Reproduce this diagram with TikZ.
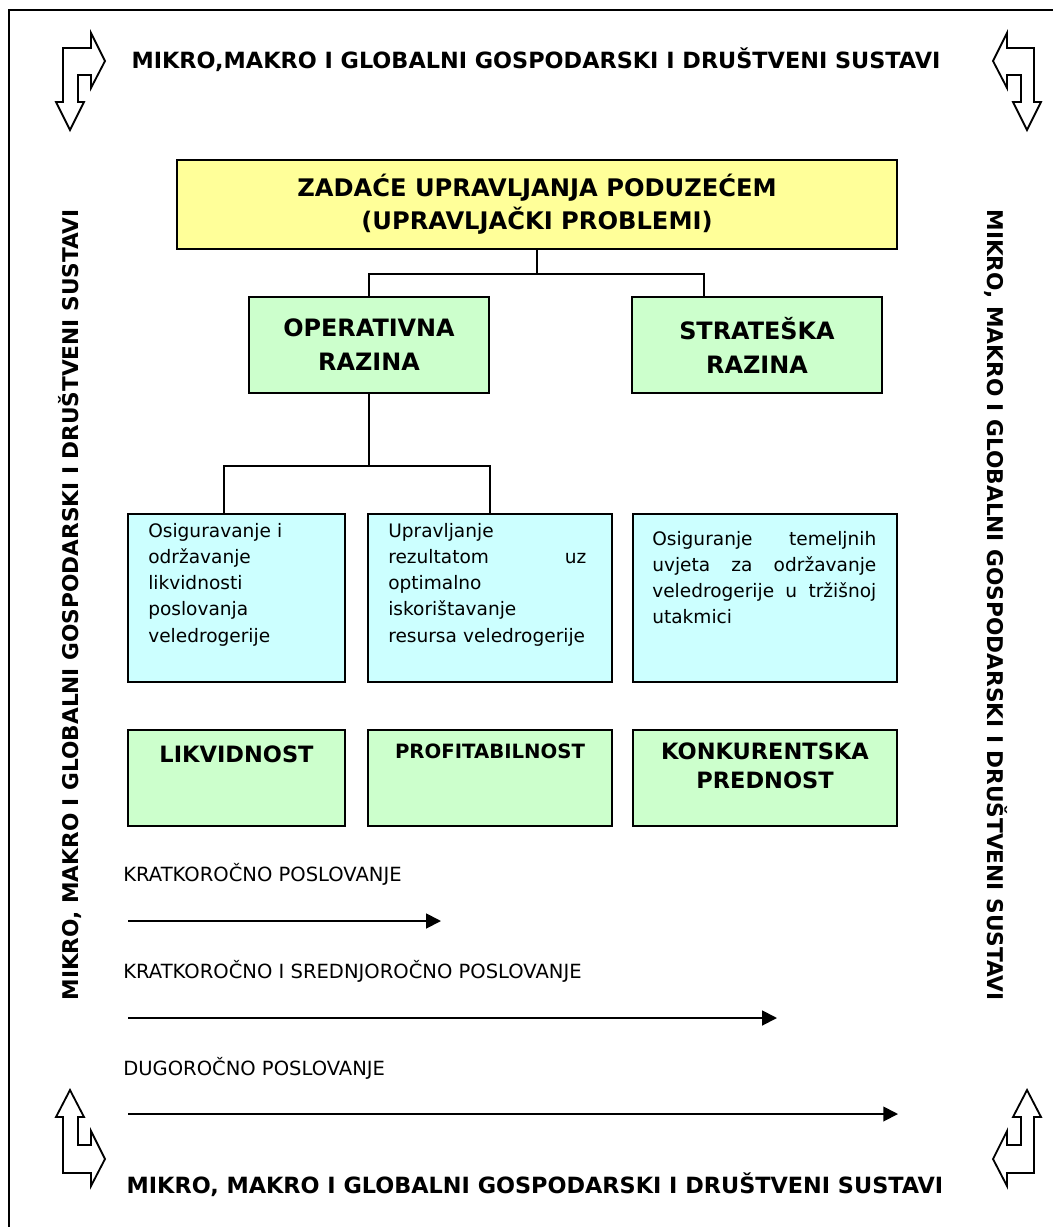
\documentclass[tikz,border=0pt]{standalone}
\usepackage{fontspec}
\setmainfont{DejaVu Sans}
\usetikzlibrary{positioning,calc,arrows.meta}

\definecolor{zadzuta}{HTML}{FFFF99}
\definecolor{razzelena}{HTML}{CCFFCC}
\definecolor{ciljplava}{HTML}{CCFFFF}

\tikzset{
  okvir/.style={draw, line width=1.4pt, inner sep=0pt},
  zadbox/.style={okvir, fill=zadzuta, minimum width=18cm, minimum height=2.225cm,
    align=center, font=\bfseries\fontsize{17.2}{23.5}\selectfont},
  razbox/.style={okvir, fill=razzelena, minimum height=2.4cm,
    align=center, font=\bfseries\fontsize{17}{24.2}\selectfont},
  ciljbox/.style={okvir, fill=ciljplava, minimum height=4.2cm},
  ciljtekst/.style={inner sep=0pt, align=left, font=\fontsize{13.2}{18.6}\selectfont},
  mjerbox/.style={okvir, fill=razzelena, minimum height=2.4cm},
  mjertekst/.style={inner sep=0pt, align=center, font=\bfseries\fontsize{16}{20}\selectfont},
  naslov/.style={inner sep=0pt, font=\bfseries\fontsize{15.9}{18}\selectfont},
  bocni/.style={inner sep=0pt, font=\bfseries\fontsize{15.4}{18}\selectfont},
  vrijeme/.style={inner sep=0pt, font=\fontsize{13.9}{16}\selectfont},
  veza/.style={line width=0.8pt},
  rok/.style={line width=1.3pt, -{Triangle[length=10.5pt, width=10.5pt]}},
  kutna/.style={line width=1.3pt, line join=miter}
}

\begin{document}
\begin{tikzpicture}[x=0.025cm, y=-0.025cm]
        \useasboundingbox (0,0) rectangle (1053,1227);

        % Frame
        \draw[line width=1.4pt] (9,1227) -- (9,10) -- (1053,10);

        % Surrounding systems
        \node[naslov] (gore) at (536,60) {MIKRO,MAKRO I GLOBALNI GOSPODARSKI I DRUŠTVENI SUSTAVI};
        \node[naslov] (dolje) at (535,1185) {MIKRO, MAKRO I GLOBALNI GOSPODARSKI I DRUŠTVENI SUSTAVI};
        \node[bocni, rotate=90] (lijevo) at (70,605) {MIKRO, MAKRO I GLOBALNI GOSPODARSKI I DRUŠTVENI SUSTAVI};
        \node[bocni, rotate=-90] (desno) at (996,605) {MIKRO, MAKRO I GLOBALNI GOSPODARSKI I DRUŠTVENI SUSTAVI};

        % Corner arrows
        \draw[kutna] (63,48) -- (91,48) -- (91,33) -- (105,61) -- (91,88) -- (91,75) -- (78,75)
          -- (78,102) -- (84,102) -- (70,130) -- (56,102) -- (63,102) -- cycle;
        \draw[kutna] (1034,48) -- (1007,48) -- (1007,33) -- (993,61) -- (1007,88) -- (1007,75) -- (1021,75)
          -- (1021,102) -- (1013,102) -- (1027,130) -- (1041,102) -- (1034,102) -- cycle;
        \draw[kutna] (63,1173) -- (91,1173) -- (91,1186) -- (105,1159) -- (91,1131) -- (91,1145) -- (78,1145)
          -- (78,1117) -- (84,1117) -- (70,1090) -- (56,1117) -- (63,1117) -- cycle;
        \draw[kutna] (1034,1173) -- (1007,1173) -- (1007,1186) -- (993,1159) -- (1007,1131) -- (1007,1145) -- (1021,1145)
          -- (1021,1117) -- (1013,1117) -- (1027,1090) -- (1041,1117) -- (1034,1117) -- cycle;

        % Tasks
        \node[zadbox] (zad) at (537,204.5) {ZADAĆE UPRAVLJANJA PODUZEĆEM\\(UPRAVLJAČKI PROBLEMI)};

        % Levels
        \node[razbox, minimum width=6cm] (oper) at (369,345) {OPERATIVNA\\RAZINA};
        \node[razbox, minimum width=6.25cm] (strat) at (757,345) {STRATEŠKA\\RAZINA};

        % Goals
        \node[ciljbox, minimum width=5.425cm] (c1) at (236.5,598) {};
        \node[ciljbox, minimum width=6.1cm] (c2) at (490,598) {};
        \node[ciljbox, minimum width=6.6cm] (c3) at (765,598) {};

        \node[ciljtekst, text width=4.95cm, anchor=north west] (t1) at ($(c1.north west)+(21,10)$)
          {Osiguravanje i\\održavanje\\likvidnosti\\poslovanja\\veledrogerije};
        \node[ciljtekst, text width=4.95cm, anchor=north west] (t2) at ($(c2.north west)+(21,10)$)
          {Upravljanje\\rezultatom\hfill uz\\optimalno\\iskorištavanje\\\mbox{resursa veledrogerije}};
        \node[ciljtekst, text width=5.6cm, anchor=north west] (t3) at ($(c3.north west)+(20,18)$)
          {Osiguranje\hfill temeljnih\\uvjeta\hfill za\hfill održavanje\\veledrogerije\hfill u\hfill tržišnoj\\utakmici};

        % Measures
        \node[mjerbox, minimum width=5.425cm] (m1) at (236.5,778) {};
        \node[mjerbox, minimum width=6.1cm] (m2) at (490,778) {};
        \node[mjerbox, minimum width=6.6cm] (m3) at (765,778) {};

        \node[mjertekst] (mt1) at ($(m1.north)+(0,25)$) {LIKVIDNOST};
        \node[mjertekst, font=\bfseries\fontsize{14}{18}\selectfont] (mt2) at ($(m2.north)+(0,22)$) {PROFITABILNOST};
        \node[mjertekst, anchor=north] (mt3) at ($(m3.north)+(0,14)$) {KONKURENTSKA\\PREDNOST};

        % Tree lines
        \coordinate (sb) at ($(strat.north west)+(73,0)$);
        \coordinate (b1) at ($(c1.north west)+(97,0)$);
        \draw[veza] (zad.south) -- ++(0,24) -| (oper.north);
        \draw[veza] (zad.south) -- ++(0,24) -| (sb);
        \draw[veza] (oper.south) -- ++(0,72) -| (b1);
        \draw[veza] (oper.south) -- ++(0,72) -| (c2.north);

        % Time horizons
        \node[vrijeme, anchor=west] (v1) at (123,874) {KRATKOROČNO POSLOVANJE};
        \node[vrijeme, anchor=west] (v2) at (123,971) {KRATKOROČNO I SREDNJOROČNO POSLOVANJE};
        \node[vrijeme, anchor=west] (v3) at (123,1068) {DUGOROČNO POSLOVANJE};

        \coordinate (r1a) at (128,921);
        \coordinate (r1b) at (441,921);
        \coordinate (r2a) at (128,1018);
        \coordinate (r2b) at (777,1018);
        \coordinate (r3a) at (128,1114);
        \coordinate (r3b) at (898,1114);
        \draw[rok] (r1a) -- (r1b);
        \draw[rok] (r2a) -- (r2b);
        \draw[rok] (r3a) -- (r3b);

\end{tikzpicture}
\end{document}
